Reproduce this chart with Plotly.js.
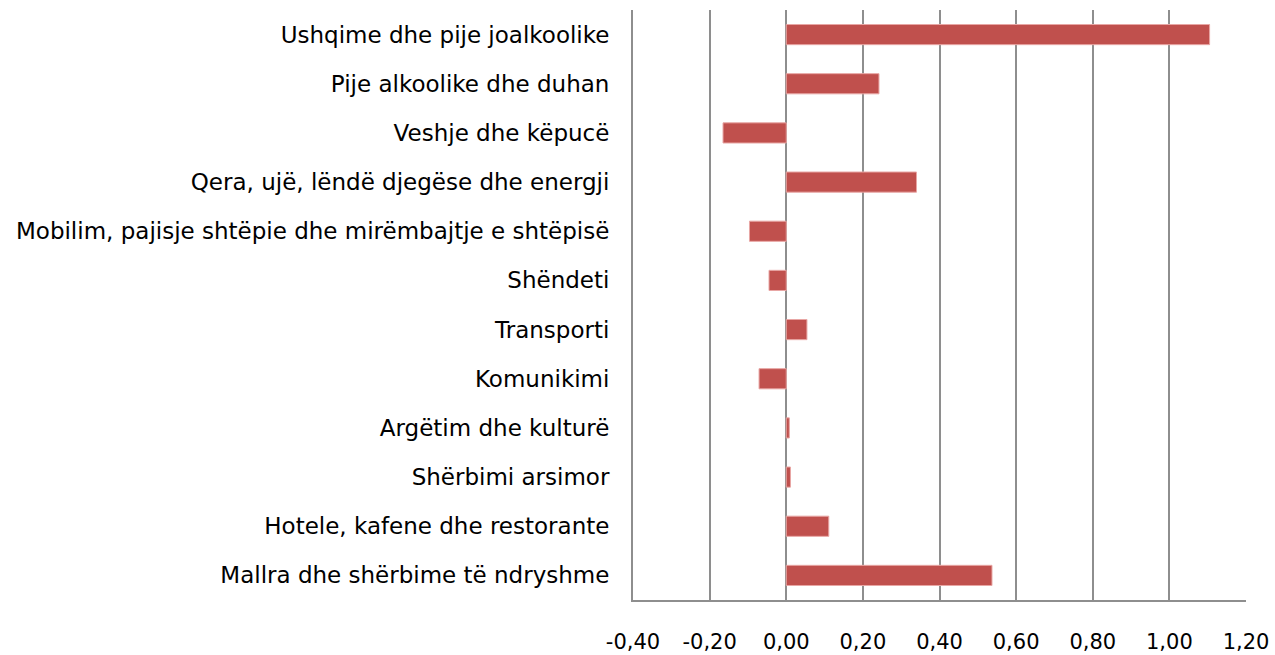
<!DOCTYPE html>
<html>
<head>
<meta charset="utf-8">
<script src="https://cdn.plot.ly/plotly-3.0.1.min.js"></script>
<style>html,body{margin:0;padding:0;background:#fff;}#chart{width:1275px;height:655px;}</style>
</head>
<body>
<div id="chart"></div>
<script>
const categories = [
  "Ushqime dhe pije joalkoolike",
  "Pije alkoolike dhe duhan",
  "Veshje dhe këpucë",
  "Qera, ujë, lëndë djegëse dhe energji",
  "Mobilim, pajisje shtëpie dhe mirëmbajtje e shtëpisë",
  "Shëndeti",
  "Transporti",
  "Komunikimi",
  "Argëtim dhe kulturë",
  "Shërbimi arsimor",
  "Hotele, kafene dhe restorante",
  "Mallra dhe shërbime të ndryshme"
];
const values = [1.105, 0.242, -0.165, 0.34, -0.096, -0.045, 0.054, -0.071, 0.008, 0.011, 0.111, 0.537];
const tickValues = [-0.4, -0.2, 0, 0.2, 0.4, 0.6, 0.8, 1.0, 1.2];
const tickLabels = ["-0,40", "-0,20", "0,00", "0,20", "0,40", "0,60", "0,80", "1,00", "1,20"];

const trace = {
  type: "bar",
  orientation: "h",
  y: categories,
  x: values,
  marker: {color: "#C0504D", line: {color: "#E8A6A4", width: 1}},
  hoverinfo: "x+y"
};

const layout = {
  width: 1275,
  height: 655,
  margin: {l: 633, r: 29, t: 10, b: 55},
  paper_bgcolor: "#ffffff",
  plot_bgcolor: "#ffffff",
  showlegend: false,
  bargap: 0.59,
  font: {family: "DejaVu Sans, Arial, sans-serif", size: 22, color: "#000000"},
  xaxis: {
    range: [-0.4, 1.2],
    tickvals: tickValues,
    ticktext: tickLabels,
    showgrid: true,
    gridcolor: "#8E8E8E",
    gridwidth: 2,
    zeroline: true,
    zerolinecolor: "#8E8E8E",
    zerolinewidth: 2,
    showline: true,
    linecolor: "#8E8E8E",
    linewidth: 2,
    ticks: "",
    ticklabelstandoff: 22,
    tickfont: {size: 21, color: "#000000"},
    fixedrange: true
  },
  yaxis: {
    autorange: "reversed",
    showgrid: false,
    zeroline: false,
    showline: true,
    linecolor: "#8E8E8E",
    linewidth: 2,
    ticks: "",
    ticklabelstandoff: 17,
    tickfont: {size: 23, color: "#000000"},
    fixedrange: true
  }
};

Plotly.newPlot("chart", [trace], layout, {displayModeBar: false, staticPlot: true});
</script>
</body>
</html>
